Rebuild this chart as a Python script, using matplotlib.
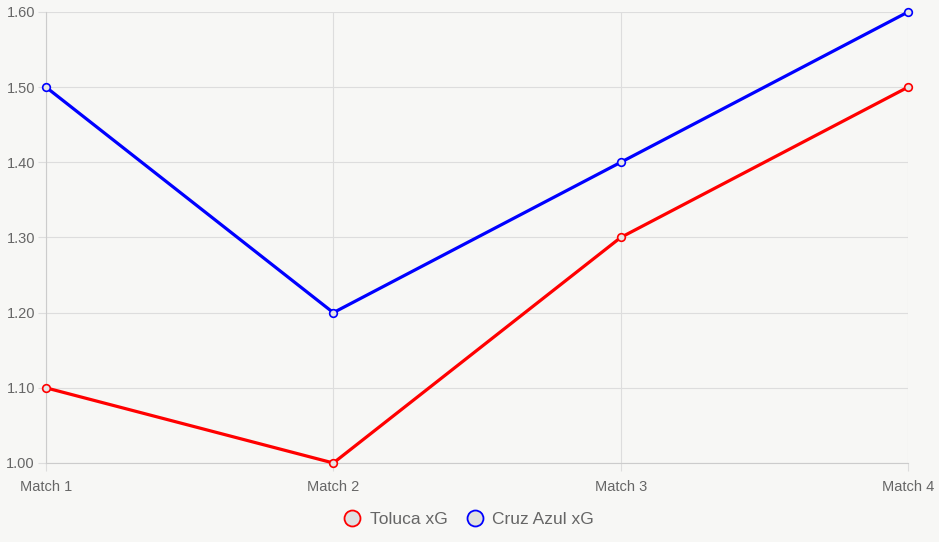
import matplotlib
matplotlib.use("Agg")
import matplotlib.pyplot as plt
from matplotlib.lines import Line2D

matches = ["Match 1", "Match 2", "Match 3", "Match 4"]
toluca_xg = [1.10, 1.00, 1.30, 1.50]
cruz_azul_xg = [1.50, 1.20, 1.40, 1.60]
y_ticks = [1.00, 1.10, 1.20, 1.30, 1.40, 1.50, 1.60]

BG = "#f7f7f5"
GRID = "#dddddd"
TEXT = "#666666"

plt.rcParams["font.family"] = ["Liberation Sans", "DejaVu Sans"]

fig = plt.figure(figsize=(9.39, 5.42), dpi=100, facecolor=BG)
ax = fig.add_axes([46 / 939, 1 - 463 / 542, 862 / 939, 451 / 542])
ax.set_facecolor(BG)

x = list(range(len(matches)))
series = [("Toluca xG", toluca_xg, "#ff0000"), ("Cruz Azul xG", cruz_azul_xg, "#0000ff")]
for label, values, color in series:
    ax.plot(x, values, color=color, linewidth=2.3, marker="o", markersize=5.5,
            markerfacecolor="#e6e6e6", markeredgecolor=color, markeredgewidth=1.2,
            label=label, zorder=3, clip_on=False)

ax.set_xlim(0, len(matches) - 1)
ax.set_ylim(1.0, 1.6)
ax.set_xticks(x)
ax.set_xticklabels(matches)
ax.set_yticks(y_ticks)
ax.set_yticklabels([f"{v:.2f}" for v in y_ticks])

ax.grid(True, color=GRID, linewidth=0.8)
for side in ["top", "right"]:
    ax.spines[side].set_visible(False)
for side in ["left", "bottom"]:
    ax.spines[side].set_color("#cccccc")
    ax.spines[side].set_linewidth(0.8)
ax.tick_params(axis="both", colors=GRID, labelcolor=TEXT, labelsize=10.5, length=6, width=0.8)
ax.tick_params(axis="y", pad=2)
ax.tick_params(axis="x", pad=6)

handles = [Line2D([], [], linestyle="none", marker="o", markersize=11.5,
                  markerfacecolor="#e0e0e0", markeredgecolor=c, markeredgewidth=1.3)
           for _, _, c in series]
fig.legend(handles, [s[0] for s in series], loc="center", bbox_to_anchor=(468 / 939, 1 - 519 / 542),
           ncol=2, frameon=False, fontsize=12.5, labelcolor=TEXT, handletextpad=0.4,
           columnspacing=1.0, handlelength=1.2)

fig.savefig("out.png", dpi=100, facecolor=BG)
